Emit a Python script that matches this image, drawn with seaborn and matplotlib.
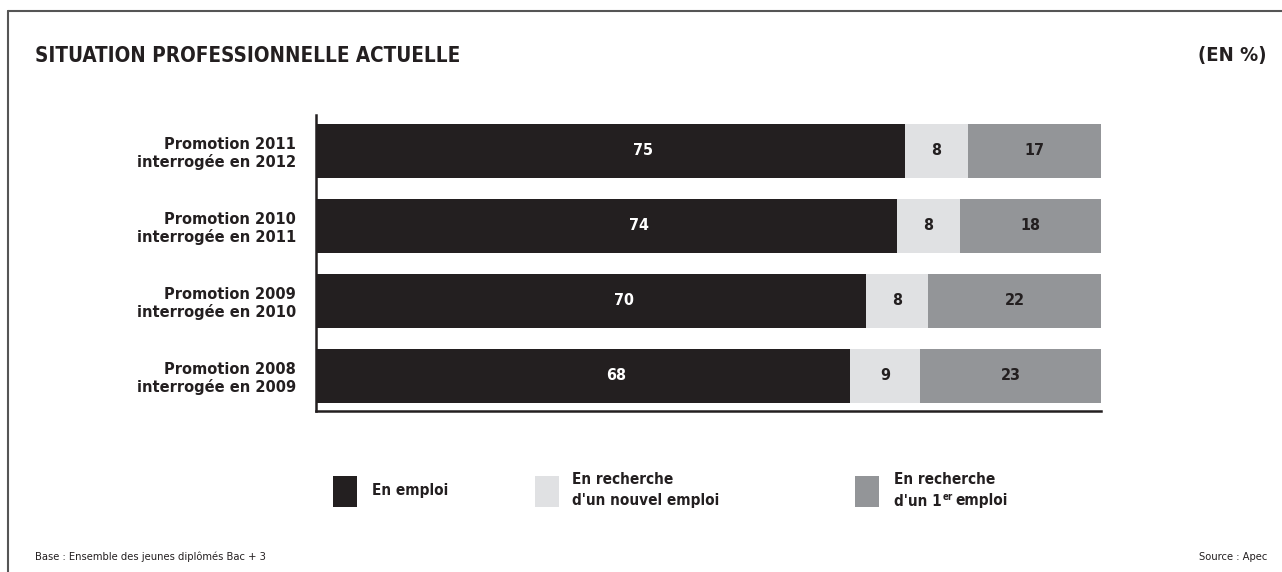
import matplotlib
matplotlib.use("Agg")
import matplotlib.pyplot as plt
import seaborn as sns
import pandas as pd
import numpy as np
from matplotlib.patches import Rectangle
from matplotlib.lines import Line2D

categories = ["Promotion 2011\ninterrogée en 2012",
              "Promotion 2010\ninterrogée en 2011",
              "Promotion 2009\ninterrogée en 2010",
              "Promotion 2008\ninterrogée en 2009"]
en_emploi = [75, 74, 70, 68]
recherche_nouvel = [8, 8, 8, 9]
recherche_premier = [17, 18, 22, 23]

series_names = ["En emploi", "En recherche\nd'un nouvel emploi", "En recherche\nd'un 1"]
colors = ["#231f20", "#e0e1e3", "#939598"]
label_colors = ["white", "#231f20", "#231f20"]

sns.set_theme(style="white")
plt.rcParams['font.family'] = ['DejaVu Sans']
FS = dict(fontstretch='condensed')

df = pd.DataFrame({"cat": categories, "a": en_emploi, "b": recherche_nouvel, "c": recherche_premier})
df["ab"] = df["a"] + df["b"]
df["abc"] = df["ab"] + df["c"]

fig = plt.figure(figsize=(12.82, 5.72), dpi=100)
ax = fig.add_axes([316/1282, 1-411/572, (1101-316)/1282, (411-115)/572])

for col, c in [("abc", colors[2]), ("ab", colors[1]), ("a", colors[0])]:
    sns.barplot(data=df, y="cat", x=col, orient="y", color=c, width=0.72,
                saturation=1, ax=ax, edgecolor="none", linewidth=0)

ax.set_xlim(0, 100)
ax.set_ylim(3.47, -0.48)
ax.set_xlabel("")
ax.set_ylabel("")
ax.set_xticks([])
ax.tick_params(axis="y", length=0, pad=14.5)
for lab in ax.get_yticklabels():
    lab.set_fontweight("bold")
    lab.set_fontsize(11.7)
    lab.set_fontstretch("condensed")
    lab.set_color("#231f20")
    lab.set_horizontalalignment("right")
    lab.set_multialignment("right")
    lab.set_linespacing(1.15)
for s in ["top", "right"]:
    ax.spines[s].set_visible(False)
for s in ["left", "bottom"]:
    ax.spines[s].set_color("#231f20")
    ax.spines[s].set_linewidth(1.8)

# value labels
for i in range(len(categories)):
    a, b, c = en_emploi[i], recherche_nouvel[i], recherche_premier[i]
    ax.text(a / 2 + 4.2, i, str(a), ha="center", va="center", color=label_colors[0],
            fontsize=11.5, fontweight="bold", **FS)
    ax.text(a + b / 2, i, str(b), ha="center", va="center", color=label_colors[1],
            fontsize=11.5, fontweight="bold", **FS)
    ax.text(a + b + c / 2, i, str(c), ha="center", va="center", color=label_colors[2],
            fontsize=11.5, fontweight="bold", **FS)

# title and unit
fig.text(35/1282, 1-56/572, "SITUATION PROFESSIONNELLE ACTUELLE", ha="left", va="center",
         fontsize=14.8, fontweight="bold", color="#231f20", **FS)
fig.text(1267/1282, 1-56/572, "(EN %)", ha="right", va="center",
         fontsize=14.5, fontweight="bold", color="#231f20", **FS)

# legend
W, H = 1282, 572
sq = [(333, colors[0]), (535, colors[1]), (855, colors[2])]
txt_x = [372, 572, 894]
for (x0, c) in sq:
    fig.patches.append(Rectangle((x0/W, 1-507/H), 24/W, 31/H, transform=fig.transFigure,
                                 facecolor=c, edgecolor="none"))
fig.text(txt_x[0]/W, 1-491/H, series_names[0], ha="left", va="center", fontsize=11,
         fontweight="bold", color="#231f20", **FS)
fig.text(txt_x[1]/W, 1-480/H, "En recherche", ha="left", va="center", fontsize=11,
         fontweight="bold", color="#231f20", **FS)
fig.text(txt_x[1]/W, 1-501/H, "d'un nouvel emploi", ha="left", va="center", fontsize=11,
         fontweight="bold", color="#231f20", **FS)
fig.text(txt_x[2]/W, 1-480/H, "En recherche", ha="left", va="center", fontsize=11,
         fontweight="bold", color="#231f20", **FS)
t3 = fig.text(txt_x[2]/W, 1-501/H, "d'un 1", ha="left", va="center", fontsize=11,
              fontweight="bold", color="#231f20", **FS)
fig.canvas.draw()
r = fig.canvas.get_renderer()
bb = t3.get_window_extent(r)
sup = fig.text(bb.x1/W + 1/W, 1-497/H, "er", ha="left", va="center", fontsize=7,
               fontweight="bold", color="#231f20", **FS)
bb2 = sup.get_window_extent(r)
fig.text(bb2.x1/W + 2/W, 1-501/H, "emploi", ha="left", va="center", fontsize=11,
         fontweight="bold", color="#231f20", **FS)

# footer
fig.text(35/W, 1-557/H, "Base : Ensemble des jeunes diplômés Bac + 3", ha="left", va="center",
         fontsize=8, color="#231f20", **FS)
fig.text(1267/W, 1-557/H, "Source : Apec", ha="right", va="center",
         fontsize=8, color="#231f20", **FS)

# frame
fig.lines.append(Line2D([8/W, 8/W], [0, 1-11/H], transform=fig.transFigure, color="#555555", lw=1.5))
fig.lines.append(Line2D([8/W, 1], [1-11/H, 1-11/H], transform=fig.transFigure, color="#555555", lw=1.5))

fig.savefig("out.png", dpi=100)
